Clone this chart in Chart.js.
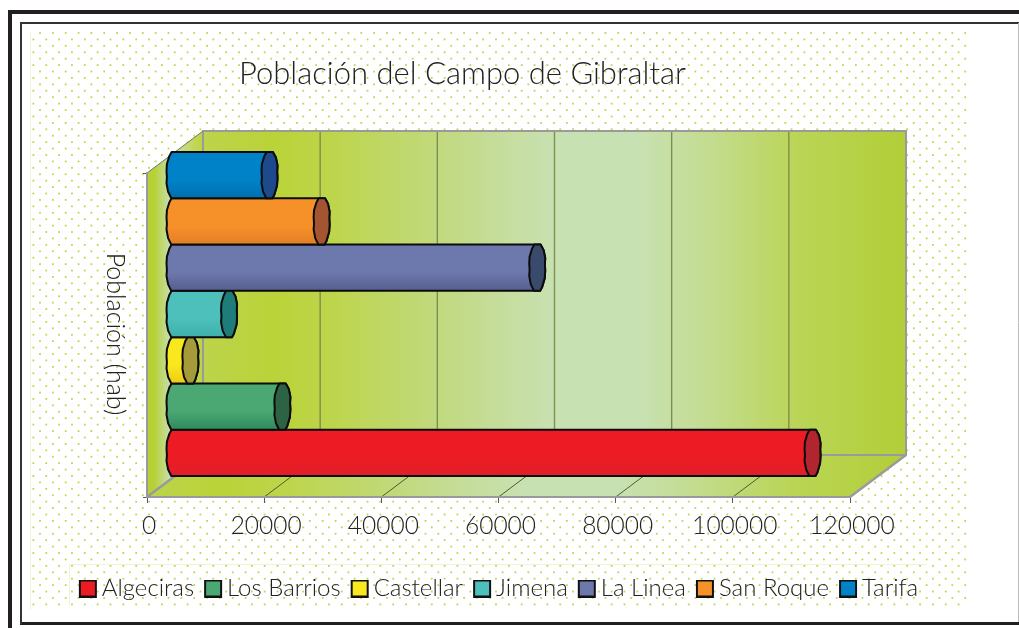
<!DOCTYPE html>
<html><head><meta charset="utf-8">
<script src="https://cdn.jsdelivr.net/npm/chart.js@4"></script>
<style>html,body{margin:0;padding:0;background:#fff;overflow:hidden}canvas{display:block}</style>
</head><body><canvas id="c" width="1019" height="628"></canvas>
<script>
const chartTitle = 'Población del Campo de Gibraltar';
const yAxisTitle = 'Población (hab)';
const categoryLabels = ['Población'];
const seriesNames = ['Algeciras','Los Barrios','Castellar','Jimena','La Linea','San Roque','Tarifa'];
const seriesValues = [109000,18500,2800,9400,62000,25200,16300];
const seriesOrder = [6,5,4,3,2,1,0];
const bodyColors = ['#ed1c24','#4ba873','#f9e81e','#4dc0bc','#6d78ad','#f6912a','#0082c8'];
const bodyDarkColors = ['#e01f29','#2f8a5b','#eecb18','#3fb0ac','#555e8f','#e37e26','#006fae'];
const capColors = ['#b2252f','#2e6244','#a59b3b','#1f7d79','#3a4a6c','#a35531','#1c4a8d'];
const tickStep = 20000, axisMax = 120000;
const FONT = 'Lato, sans-serif', INK = '#222224';
const DEPTH = {x:56, y:-42}, BAR_SHIFT = {x:27, y:-21};

function swatch(color){
  const s = document.createElement('canvas'); s.width = 34; s.height = 18;
  const g = s.getContext('2d');
  g.fillStyle = color; g.fillRect(12,1,16,16);
  g.strokeStyle = '#111'; g.lineWidth = 2; g.strokeRect(12,1,16,16);
  return s;
}
const swatches = bodyColors.map(swatch);

function wallStops(g){
  [[0,'#bcd44a'],[.1,'#bad338'],[.18,'#bdd54a'],[.33,'#c1d97c'],[.42,'#c5dd9a'],[.5,'#c8e1b2'],[.62,'#c8e1b2'],[.72,'#c3dc90'],[.85,'#bad555'],[1,'#b2ce38']]
    .forEach(s=>g.addColorStop(s[0],s[1]));
  return g;
}

const backdrop = {
  id:'backdrop',
  beforeDraw(chart){
    const c = chart.ctx, a = chart.chartArea, x = chart.scales.x;
    c.save();
    c.fillStyle = '#fff'; c.fillRect(0,0,chart.width,chart.height);
    // dotted paper
    c.fillStyle = '#bfd64f';
    for(let r=0, y=33; y<610; r++, y+=6.42){
      for(let px=(r%2?33.4:40); px<966; px+=12.85){ c.fillRect(px-.9,y-.9,1.8,1.8); }
    }
    // faint panel lines
    c.strokeStyle='#eef4d6';c.lineWidth=1;
    c.beginPath();c.moveTo(30.5,32);c.lineTo(30.5,610);c.moveTo(69.5,605);c.lineTo(69.5,564.5);c.lineTo(927,564.5);c.stroke();
    // frames
    c.strokeStyle = '#231f20'; c.lineWidth = 4;
    c.beginPath(); c.moveTo(10,628); c.lineTo(10,12); c.lineTo(1019,12); c.stroke();
    c.lineWidth = 3;
    c.beginPath(); c.moveTo(20,623.5); c.lineTo(1019,623.5); c.stroke();
    c.lineWidth = 2; c.strokeStyle='#333';
    c.beginPath(); c.moveTo(21,624); c.lineTo(21,23); c.lineTo(1019,23); c.stroke();
    c.strokeStyle='#bbb'; c.lineWidth=1; c.beginPath(); c.moveTo(1018.5,23); c.lineTo(1018.5,622); c.stroke();
    const L=a.left,R=a.right,T=a.top,B=a.bottom,dx=DEPTH.x,dy=DEPTH.y;
    const pale='#c6dea6', green='#b6d035';
    // back wall
    c.fillStyle=wallStops(c.createLinearGradient(L+dx,0,R+dx,0));c.fillRect(L+dx,T+dy,R-L,B-T);
    // floor
    c.fillStyle=wallStops(c.createLinearGradient(L,0,R+dx,0));
    c.beginPath();c.moveTo(L,B);c.lineTo(R,B);c.lineTo(R+dx,B+dy);c.lineTo(L+dx,B+dy);c.closePath();c.fill();
    // side wall
    const g=c.createLinearGradient(L,0,L+dx,0);
    g.addColorStop(0,green);g.addColorStop(.12,green);g.addColorStop(.4,pale);g.addColorStop(.65,'#c6dc80');g.addColorStop(1,'#bcd43a');
    c.fillStyle=g;c.beginPath();c.moveTo(L,T);c.lineTo(L+dx,T+dy);c.lineTo(L+dx,B+dy);c.lineTo(L,B);c.closePath();c.fill();
    // grid lines taken from the x scale
    x.ticks.forEach(t=>{
      if(t.value===0||t.value===axisMax) return;
      const px=x.getPixelForValue(t.value);
      c.strokeStyle='#7f8f4c';c.lineWidth=1.4;
      c.beginPath();c.moveTo(px+dx,T+dy);c.lineTo(px+dx,B+dy);c.stroke();
      c.strokeStyle='#4f5a36';c.lineWidth=1;
      c.beginPath();c.moveTo(px,B);c.lineTo(px+dx,B+dy);c.stroke();
    });
    // wall edges
    c.strokeStyle='#9a9a9c';c.lineWidth=2;
    c.beginPath();c.moveTo(L+dx,B+dy);c.lineTo(L+dx,T+dy);c.lineTo(R+dx,T+dy);c.lineTo(R+dx,B+dy);c.lineTo(L+dx,B+dy);c.stroke();
    c.lineWidth=2.4;c.beginPath();c.moveTo(L,B);c.lineTo(L+dx,B+dy);c.moveTo(R,B);c.lineTo(R+dx,B+dy);c.stroke();
    c.strokeStyle='#6d7564';c.lineWidth=1;c.beginPath();c.moveTo(L,T);c.lineTo(L+dx,T+dy);c.stroke();
    c.restore();
  },
  afterDraw(chart){
    const c=chart.ctx;
    c.save();
    c.translate(115,334);c.rotate(Math.PI/2);
    c.font='300 25px '+FONT;c.fillStyle=INK;c.textAlign='center';c.textBaseline='middle';
    c.fillText(chart.options.scales.y.title.text,0,0);
    c.restore();
  },
  afterLayout(chart){
    const t=chart.titleBlock; t.left-=47; t.right-=47;
    const l=chart.legend; l.left-=10.5; l.right-=10.5;
  }
};

// octagon-like outline of a cylinder end, slightly irregular as in the reference
const ringRight=[[.42,-1],[.8,-.76],[1,-.42],[.96,-.15],[1,.12],[.94,.45],[.6,.85],[.36,1]];
const ringLeft=[[-.4,1],[-.8,.72],[-1,.35],[-.95,.1],[-1,-.18],[-.95,-.48],[-.65,-.82],[-.36,-1]];
const cylinders = {
  id:'cylinders',
  beforeDatasetDraw(chart,args){
    const el=args.meta.data[0], i=args.index, c=chart.ctx;
    const p=el.getProps(['x','y','base','height'],true);
    const x0=p.base+BAR_SHIFT.x, x1=p.x+BAR_SHIFT.x, cy=p.y+BAR_SHIFT.y, ry=p.height/2, rx=8;
    c.save();
    c.lineJoin='round';c.strokeStyle='#0c0c0c';c.lineWidth=2;
    const g=c.createLinearGradient(0,cy-ry,0,cy+ry);
    g.addColorStop(0,bodyColors[i]);g.addColorStop(.6,bodyColors[i]);g.addColorStop(1,bodyDarkColors[i]);
    c.fillStyle=g;
    c.beginPath();
    ringRight.forEach((q,k)=>{const X=x1+q[0]*rx,Y=cy+q[1]*ry;k?c.lineTo(X,Y):c.moveTo(X,Y);});
    ringLeft.forEach(q=>c.lineTo(x0+q[0]*rx,cy+q[1]*ry));
    c.closePath();c.fill();c.stroke();
    // end cap
    c.fillStyle=capColors[i];
    c.beginPath();
    ringRight.forEach((q,k)=>{const X=x1+q[0]*rx,Y=cy+q[1]*ry;k?c.lineTo(X,Y):c.moveTo(X,Y);});
    ringLeft.forEach(q=>c.lineTo(x1+q[0]*rx,cy+q[1]*ry));
    c.closePath();c.fill();c.stroke();
    c.restore();
    return false;
  }
};

new Chart(document.getElementById('c'),{
  type:'bar',
  data:{
    labels:categoryLabels,
    datasets:seriesNames.map((n,i)=>({label:n,data:[seriesValues[i]],order:seriesOrder[i],backgroundColor:bodyColors[i],categoryPercentage:1,barPercentage:1}))
  },
  plugins:[backdrop,cylinders],
  options:{
    indexAxis:'y',responsive:false,animation:false,events:[],
    layout:{padding:{bottom:17.5}},
    scales:{
      x:{type:'linear',min:0,max:axisMax,position:'bottom',
        border:{display:true,color:'#9a9a9c',width:2},
        grid:{drawOnChartArea:false,tickLength:6,color:'#55585a',tickWidth:1},
        ticks:{stepSize:tickStep,padding:8,maxRotation:0,autoSkip:false,labelOffset:2,color:INK,font:{family:FONT,size:24.5,weight:300},callback:v=>String(v)},
        afterFit(s){s.height=113.5-s.chart.legend.height;}},
      y:{type:'category',position:'left',
        title:{display:false,text:yAxisTitle},
        border:{display:true,color:'#9a9a9c',width:2},
        grid:{drawOnChartArea:false,tickLength:4,color:'#55585a',offset:true},
        ticks:{display:false},
        afterFit(s){s.width=147;}},
      yPad:{type:'linear',position:'right',axis:'y',display:true,
        border:{display:false},grid:{display:false},ticks:{display:false},
        afterFit(s){s.width=169;}}
    },
    plugins:{
      tooltip:{enabled:false},
      title:{display:true,text:chartTitle,color:INK,font:{family:FONT,size:31,weight:300},padding:{top:55,bottom:80.8}},
      legend:{position:'bottom',labels:{
        usePointStyle:true,boxWidth:10,padding:11,color:INK,font:{family:FONT,size:24,weight:300},
        sort:(a,b)=>a.datasetIndex-b.datasetIndex,
        generateLabels(ch){return Chart.defaults.plugins.legend.labels.generateLabels(ch).map(l=>Object.assign(l,{pointStyle:swatches[l.datasetIndex]}));}
      }}
    }
  }
});
</script></body></html>
